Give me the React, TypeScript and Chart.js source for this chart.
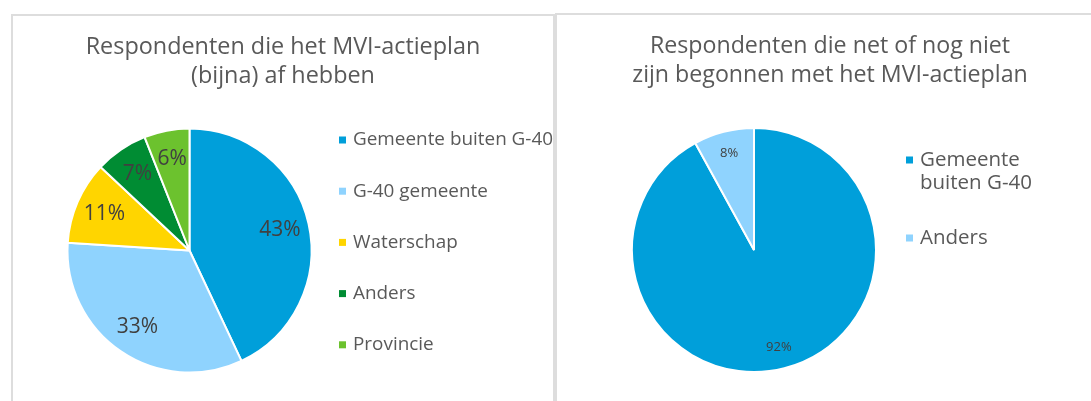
import React, { useEffect, useRef } from "react";
import { Chart, registerables } from "chart.js";

Chart.register(...registerables);

// ---------- data ----------
const leftTitle = ["Respondenten die het MVI-actieplan", "(bijna) af hebben"];
const leftCategories = ["Gemeente buiten G-40", "G-40 gemeente", "Waterschap", "Anders", "Provincie"];
const leftValues = [43, 33, 11, 7, 6];
const leftColors = ["#009FDA", "#8FD3FE", "#FFD500", "#008C33", "#6CC22E"];

const rightTitle = ["Respondenten die net of nog niet", "zijn begonnen met het MVI-actieplan"];
const rightCategories = ["Gemeente buiten G-40", "Anders"];
const rightValues = [92, 8];
const rightColors = ["#009FDA", "#8FD3FE"];

const W = 1091;
const H = 401;

type Cfg = {
  title: string[];
  titleX: number;
  titleY: number;
  titleLH: number;
  titleFont: string;
  labelFont: string;
  labelRatio: number;
  legendFont: string;
  legendX: number;
  legendY: number;
  legendLH: number;
  legendGap: number;
  legendMaxW: number;
};

function wrap(ctx: CanvasRenderingContext2D, text: string, maxW: number): string[] {
  const words = text.split(" ");
  const lines: string[] = [];
  let cur = "";
  words.forEach((w) => {
    const test = cur ? cur + " " + w : w;
    if (cur && ctx.measureText(test).width > maxW) {
      lines.push(cur);
      cur = w;
    } else cur = test;
  });
  if (cur) lines.push(cur);
  return lines;
}

function makeDecor(cfg: Cfg) {
  return {
    id: "decor",
    afterDatasetsDraw(chart: any) {
      const ctx: CanvasRenderingContext2D = chart.ctx;
      ctx.save();
      // title
      ctx.fillStyle = "#595959";
      ctx.font = cfg.titleFont;
      ctx.textAlign = "center";
      ctx.textBaseline = "alphabetic";
      cfg.title.forEach((t, i) => ctx.fillText(t, cfg.titleX, cfg.titleY + i * cfg.titleLH));

      // data labels
      const meta = chart.getDatasetMeta(0);
      const ds = chart.data.datasets[0];
      ctx.font = cfg.labelFont;
      ctx.fillStyle = "#404040";
      ctx.textAlign = "center";
      ctx.textBaseline = "middle";
      meta.data.forEach((arc: any, i: number) => {
        const p = arc.getProps(["x", "y", "startAngle", "endAngle", "outerRadius"], true);
        const mid = (p.startAngle + p.endAngle) / 2;
        const r = p.outerRadius * cfg.labelRatio;
        ctx.fillText(`${ds.data[i]}%`, p.x + Math.cos(mid) * r, p.y + Math.sin(mid) * r);
      });

      // legend
      ctx.font = cfg.legendFont;
      ctx.textAlign = "left";
      ctx.textBaseline = "middle";
      let y = cfg.legendY;
      (chart.data.labels as string[]).forEach((lab, i) => {
        const lines = wrap(ctx, lab, cfg.legendMaxW);
        ctx.fillStyle = ds.backgroundColor[i];
        ctx.fillRect(cfg.legendX, y - 3.5, 7, 7);
        ctx.fillStyle = "#595959";
        lines.forEach((ln, j) => ctx.fillText(ln, cfg.legendX + 14, y + j * cfg.legendLH));
        y += (lines.length - 1) * cfg.legendLH + cfg.legendGap;
      });
      ctx.restore();
    },
  };
}

function PieCanvas(props: {
  labels: string[];
  values: number[];
  colors: string[];
  cx: number;
  cy: number;
  radius: number;
  cfg: Cfg;
}) {
  const ref = useRef<HTMLCanvasElement | null>(null);
  useEffect(() => {
    if (!ref.current) return;
    const box = 132;
    const chart = new Chart(ref.current, {
      type: "pie",
      data: {
        labels: props.labels,
        datasets: [
          {
            data: props.values,
            backgroundColor: props.colors,
            borderColor: "#FFFFFF",
            borderWidth: 2,
          },
        ],
      },
      options: {
        responsive: false,
        animation: false,
        radius: props.radius,
        layout: {
          padding: {
            left: props.cx - box,
            right: W - (props.cx + box),
            top: props.cy - box,
            bottom: H - (props.cy + box),
          },
        },
        plugins: {
          legend: { display: false },
          title: { display: false },
          tooltip: { enabled: false },
        },
      } as any,
      plugins: [makeDecor(props.cfg)],
    });
    return () => chart.destroy();
  }, []);
  return (
    <canvas
      ref={ref}
      width={W}
      height={H}
      style={{ position: "absolute", left: 0, top: 0, width: W, height: H }}
    />
  );
}

export default function App() {
  return (
    <div
      style={{
        position: "absolute",
        left: 0,
        top: 0,
        width: W,
        height: H,
        overflow: "hidden",
        background: "#FFFFFF",
      }}
    >
      <div
        style={{
          position: "absolute",
          left: 11,
          top: 14,
          width: 544,
          height: 430,
          boxSizing: "border-box",
          border: "2px solid #DDDDDD",
        }}
      />
      <div
        style={{
          position: "absolute",
          left: 555,
          top: 13,
          width: 600,
          height: 430,
          boxSizing: "border-box",
          border: "2px solid #DDDDDD",
        }}
      />
      <PieCanvas
        labels={leftCategories}
        values={leftValues}
        colors={leftColors}
        cx={189.5}
        cy={250.5}
        radius={122}
        cfg={{
          title: leftTitle,
          titleX: 283,
          titleY: 53.5,
          titleLH: 29.5,
          titleFont: '23.4px "Open Sans"',
          labelFont: '21px "Open Sans"',
          labelRatio: 0.76,
          legendFont: '18.9px "Open Sans"',
          legendX: 339,
          legendY: 140,
          legendLH: 23.5,
          legendGap: 51.2,
          legendMaxW: 400,
        }}
      />
      <PieCanvas
        labels={rightCategories}
        values={rightValues}
        colors={rightColors}
        cx={754}
        cy={250}
        radius={122}
        cfg={{
          title: rightTitle,
          titleX: 830,
          titleY: 52.5,
          titleLH: 29.5,
          titleFont: '23.2px "Open Sans"',
          labelFont: '13px "Open Sans"',
          labelRatio: 0.82,
          legendFont: '20.5px "Open Sans"',
          legendX: 906,
          legendY: 160,
          legendLH: 23.5,
          legendGap: 54.5,
          legendMaxW: 130,
        }}
      />
    </div>
  );
}
